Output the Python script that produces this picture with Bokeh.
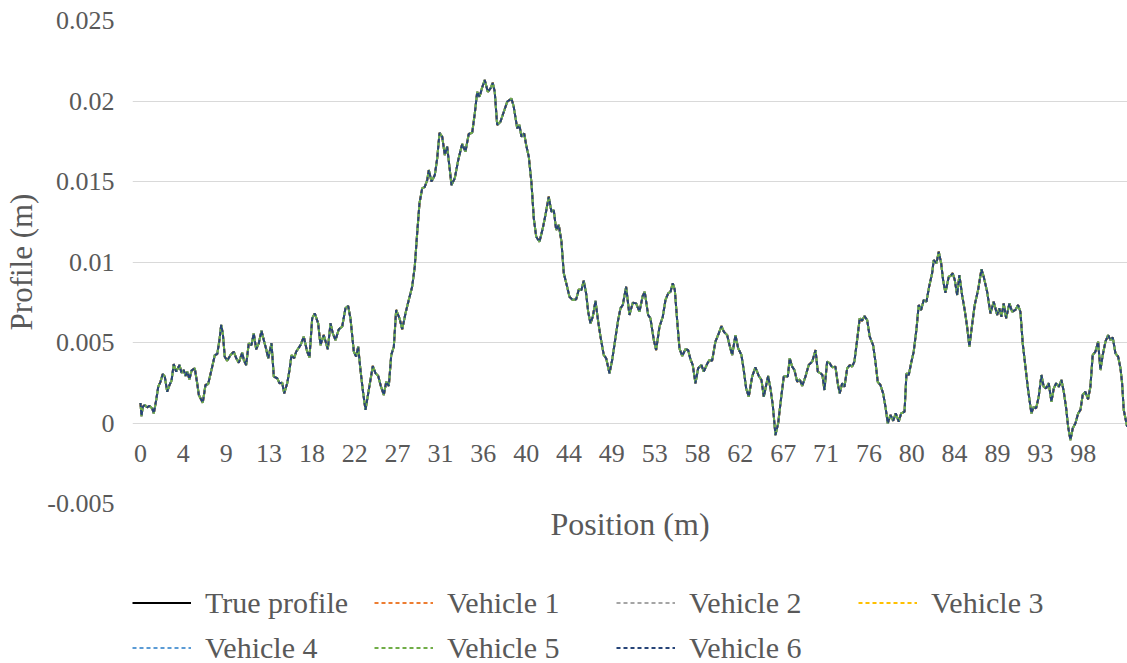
from bokeh.plotting import figure
from bokeh.layouts import column
from bokeh.models import (LinearAxis, FixedTicker, CustomJSTickFormatter, Legend,
                          LegendItem, Range1d, ColumnDataSource)
from bokeh.core.properties import value
from bokeh.embed import file_html
from bokeh.resources import INLINE

# ---------------- data ----------------
position_m = [
    0.0, 0.1, 0.24, 0.45, 0.69, 0.93, 1.21, 1.38, 1.63, 1.84, 2.07, 2.31, 2.52, 2.77, 3.01, 3.22,
    3.45, 3.70, 4.05, 4.25, 4.49, 4.67, 4.84, 5.08, 5.29, 5.63, 5.88, 6.05, 6.46, 6.74, 7.02, 7.44,
    7.71, 7.96, 8.19, 8.37, 8.54, 8.74, 8.99, 9.34, 9.68, 9.93, 10.20, 10.55, 10.72, 10.96, 11.23,
    11.51, 11.75, 12.00, 12.27, 12.55, 12.79, 13.04, 13.25, 13.59, 13.83, 14.18, 14.42, 14.70,
    14.91, 15.22, 15.46, 15.66, 15.94, 16.15,
    16.60, 16.94, 17.29, 17.53, 17.81, 18.08, 18.43, 18.67, 19.01, 19.43, 19.71, 19.95, 20.23,
    20.57, 20.92, 21.26, 21.54, 21.78, 22.13, 22.37, 22.58, 22.82, 23.06, 23.34, 23.68, 24.10,
    24.38, 24.66, 24.93, 25.24, 25.49, 25.76, 26.01, 26.28, 26.52, 26.87, 27.15, 27.49, 27.83,
    28.18, 28.45, 28.70, 28.94, 29.22, 29.49, 29.74, 29.91, 30.19, 30.53, 30.78, 31.02, 31.30,
    31.57, 31.81, 32.05, 32.26, 32.60, 32.96,
    33.37, 33.71, 34.05, 34.41, 34.68, 34.93, 35.17, 35.45, 35.71, 36.03, 36.31, 36.54, 36.75,
    37.00, 37.34, 37.69, 38.04, 38.48, 38.72, 39.08, 39.31, 39.52, 39.80, 40.01, 40.28, 40.56,
    40.80, 41.05, 41.39, 41.73, 42.01, 42.35, 42.63, 42.87, 43.12, 43.39, 43.67, 43.91, 44.26,
    44.50, 44.84, 45.20, 45.47, 45.74, 45.98, 46.23, 46.44, 46.68, 46.92, 47.20, 47.48, 47.72,
    48.06, 48.31, 48.65, 48.93, 49.27, 49.55,
    49.79, 50.03, 50.38, 50.72, 51.07, 51.42, 51.76, 52.10, 52.31, 52.66, 52.90, 53.25, 53.49,
    53.84, 54.18, 54.46, 54.74, 54.98, 55.22, 55.43, 55.67, 55.91, 56.19, 56.53, 56.81, 57.05,
    57.29, 57.57, 57.85, 58.19, 58.43, 58.78, 59.02, 59.30, 59.64, 59.99, 60.27, 60.51, 60.86,
    61.10, 61.38, 61.72, 62.00, 62.34, 62.58, 62.83, 63.10, 63.45, 63.79, 64.14, 64.42, 64.66,
    64.91, 65.11, 65.35, 65.59, 65.87, 66.15, 66.39, 66.73,
    66.91, 67.15, 67.35, 67.60, 67.84, 68.12, 68.39, 68.64, 68.98, 69.32, 69.68, 70.03, 70.26,
    70.54, 70.74, 70.95, 71.23, 71.50, 71.75, 72.09, 72.33, 72.54, 72.79, 73.03, 73.31, 73.58,
    73.82, 74.06, 74.34, 74.61, 74.86, 75.10, 75.38, 75.65, 76.00, 76.24, 76.48, 76.76, 77.04,
    77.28, 77.52, 77.80, 78.08, 78.35, 78.66, 78.91, 79.26, 79.46, 79.70, 79.95, 80.21, 80.49,
    80.73, 80.98, 81.25, 81.53, 81.81, 82.12, 82.29, 82.57, 82.81, 83.06, 83.26, 83.50, 83.85,
    84.02, 84.26, 84.47, 84.72, 84.95, 85.23, 85.50, 85.75, 85.99, 86.20, 86.54, 86.89, 87.24,
    87.47, 87.83, 88.17, 88.51, 88.87, 89.10, 89.31, 89.55, 89.80, 90.14, 90.42, 90.76, 91.04,
    91.28, 91.52, 91.80, 92.08, 92.42, 92.66, 92.91, 93.18, 93.46, 93.70, 93.95, 94.22, 94.50,
    94.74, 94.99, 95.26, 95.54, 95.78, 96.03, 96.23, 96.47, 96.71, 96.99, 97.27, 97.51, 97.74,
    98.02, 98.30, 98.54, 98.78, 99.06, 99.34, 99.58, 99.82, 100.10, 100.38, 100.62, 100.86,
    101.14, 101.42, 101.66, 101.83, 102.00, 102.35,
]

# true profile in millimetres (converted to metres below)
true_profile_mm = [
    1.24, 0.43, 1.01, 1.12, 0.97, 1.06, 0.91, 0.60, 1.43, 2.25, 2.56, 3.04, 2.88, 1.94, 2.36, 2.63,
    3.66, 3.19, 3.60, 3.12, 3.29, 2.92, 3.19, 2.71, 3.25, 3.40, 2.47, 1.74, 1.26, 2.36, 2.42, 3.50,
    4.22, 4.28, 5.15, 6.09, 5.57, 4.12, 3.87, 4.22, 4.43, 4.02, 3.74, 4.37, 3.91, 3.60, 4.95,
    4.84, 5.57, 4.58, 4.95, 5.73, 5.15, 4.58, 4.02, 4.95, 2.88, 2.78, 2.47, 2.50,
    1.84, 2.47, 3.29, 4.22, 4.02, 4.43,
    4.84, 5.36, 4.43, 4.08, 6.50, 6.81, 6.19, 4.84, 5.46, 4.58, 6.19, 5.57, 5.15,
    5.82, 5.98, 7.12, 7.27, 6.50, 4.43, 4.12, 4.74, 3.29, 2.05, 0.81, 2.05, 3.54,
    3.09, 2.92, 2.30, 1.74, 2.56, 2.30, 4.22, 4.74, 7.02, 6.50, 5.82, 6.81, 7.64,
    8.46, 9.71, 11.78, 13.64, 14.57, 14.67, 15.09, 15.71, 14.99, 15.40, 16.44, 18.03, 17.78,
    16.64, 17.16, 15.92, 14.78, 15.20, 16.33,
    17.33, 16.85, 17.95, 18.03, 19.23, 20.57, 20.26, 20.85, 21.30, 20.57, 20.79, 21.13, 20.57,
    18.51, 18.71, 19.33, 19.95, 20.16, 19.64, 18.30, 18.51, 17.78, 17.99, 17.26, 16.54, 14.89,
    12.71, 11.57, 11.26, 12.09, 12.92, 14.05, 13.12, 13.23, 11.99, 12.30, 11.26, 9.30, 8.46,
    7.84, 7.64, 7.68, 8.30, 8.26, 8.84, 8.05, 6.91, 6.19, 6.60, 7.59, 6.29, 5.36,
    4.22, 4.02, 3.09, 3.91, 5.28, 6.40,
    7.12, 7.33, 8.46, 6.71, 7.47, 7.43, 6.91, 7.89, 8.15, 6.71, 6.50, 5.15, 4.53,
    5.98, 6.60, 7.64, 8.05, 8.15, 8.68, 8.26, 6.40, 4.64, 4.16, 4.58, 4.53, 3.96,
    3.60, 2.47, 3.40, 3.60, 3.19, 3.66, 3.91, 3.87, 5.05, 5.57, 6.02, 5.67, 5.46,
    4.84, 4.22, 5.46, 4.64, 4.22, 3.29, 2.15, 1.63, 2.88, 3.46, 2.92, 2.67, 1.63,
    2.36, 2.92, 2.15, 1.12, -0.75, -0.02, 1.22, 2.88,
    2.92, 2.88, 4.02, 3.50, 3.29, 2.56, 2.71, 2.30, 2.88, 3.60, 3.81, 4.53, 3.19,
    3.09, 2.98, 2.05, 3.81, 3.71, 3.46, 3.50, 2.47, 1.84, 2.47, 2.25, 3.40, 3.60,
    3.50, 3.81, 5.15, 6.50, 6.35, 6.64, 6.40, 5.36, 4.84, 3.81, 2.56, 2.36, 1.84,
    1.01, -0.02, 0.50, 0.14, 0.60, 0.08, 0.60, 0.70, 3.09, 2.98, 3.74, 4.43, 5.78,
    7.33, 7.02, 7.64, 7.53, 8.46, 9.30, 10.12, 9.92, 10.64, 9.92, 8.88, 8.09, 9.09,
    9.13, 9.30, 8.88, 7.95, 9.19, 7.95, 7.02, 5.98, 4.74, 5.78, 7.33, 8.26, 9.55,
    9.09, 8.15, 6.81, 7.53, 6.71, 7.12, 6.60, 7.43, 6.50, 7.43, 6.91, 7.02, 7.33,
    6.91, 4.95, 3.50, 2.05, 0.60, 1.01, 0.91, 1.63, 2.98, 2.25, 2.15, 2.47, 1.32,
    2.15, 2.47, 2.25, 2.67, 1.94, 0.91, -0.23, -1.06, -0.33, -0.02, 0.60, 0.81, 1.74,
    1.94, 1.47, 2.25, 4.22, 4.43, 5.05, 3.29, 4.22, 5.05, 5.46, 5.15, 5.32,
    4.33, 4.12, 3.40, 2.47, 0.81, -0.23,
]

# the six vehicle estimates coincide with the true profile at this scale
vehicle_1_mm = true_profile_mm
vehicle_2_mm = true_profile_mm
vehicle_3_mm = true_profile_mm
vehicle_4_mm = true_profile_mm
vehicle_5_mm = true_profile_mm
vehicle_6_mm = true_profile_mm

series_names = ["True profile", "Vehicle 1", "Vehicle 2", "Vehicle 3",
                "Vehicle 4", "Vehicle 5", "Vehicle 6"]
series_values = [true_profile_mm, vehicle_1_mm, vehicle_2_mm, vehicle_3_mm,
                 vehicle_4_mm, vehicle_5_mm, vehicle_6_mm]
series_colors = ["#000000", "#ED7D31", "#A5A5A5", "#FFC000", "#5B9BD5", "#70AD47", "#264478"]
series_dash_offsets = [0, 1, 2, 5, 4, 3, 0]

x_tick_pos = [0, 4.445, 8.89, 13.335, 17.78, 22.225, 26.67, 31.115, 35.56, 40.005, 44.45,
              48.895, 53.34, 57.785, 62.23, 66.675, 71.12, 75.565, 80.01, 84.455, 88.9,
              93.345, 97.79]
x_tick_labels = ["0", "4", "9", "13", "18", "22", "27", "31", "36", "40", "44", "49", "53",
                 "58", "62", "67", "71", "76", "80", "84", "89", "93", "98"]
y_ticks = [-0.005, 0, 0.005, 0.01, 0.015, 0.02, 0.025]
y_tick_labels = ["-0.005", "0", "0.005", "0.01", "0.015", "0.02", "0.025"]

# ---------------- main figure ----------------
FONT = "Liberation Serif"
TXT = "#595959"
GRID = "#D9D9D9"

p = figure(width=1127, height=550, output_backend="svg", toolbar_location=None,
           x_axis_type=None, x_range=Range1d(-0.83, 102.39), y_range=Range1d(-0.005, 0.025),
           min_border_left=132, min_border_right=0, min_border_top=20, min_border_bottom=47)
p.outline_line_color = None
p.background_fill_color = "white"
p.border_fill_color = "white"

nearest_js = """
let best = 0, dist = 1e99;
for (let i = 0; i < pos.length; i++) {
  const e = Math.abs(pos[i] - tick);
  if (e < dist) { dist = e; best = i; }
}
return lbls[best];
"""

ya = p.yaxis[0]
ya.ticker = FixedTicker(ticks=y_ticks)
ya.formatter = CustomJSTickFormatter(args=dict(pos=y_ticks, lbls=y_tick_labels), code=nearest_js)
ya.axis_line_color = None
ya.major_tick_line_color = None
ya.minor_tick_line_color = None
ya.major_tick_out = 0
ya.major_tick_in = 0
ya.major_label_standoff = 18
ya.major_label_text_font = FONT
ya.major_label_text_font_size = "26px"
ya.major_label_text_color = TXT
ya.axis_label = "Profile (m)"
ya.axis_label_text_font = FONT
ya.axis_label_text_font_size = "31px"
ya.axis_label_text_font_style = "normal"
ya.axis_label_text_color = TXT
ya.axis_label_standoff = 5

p.ygrid.grid_line_color = GRID
p.ygrid.grid_line_width = 1

xt = LinearAxis(ticker=FixedTicker(ticks=[]), axis_line_color=None,
                major_tick_line_color=None, minor_tick_line_color=None,
                major_tick_out=0, major_tick_in=0,
                axis_label="Position (m)", axis_label_text_font=FONT,
                axis_label_text_font_size="32px", axis_label_text_font_style="normal",
                axis_label_text_color=TXT, axis_label_standoff=2)
p.add_layout(xt, "below")

# category-style position labels sitting just under the zero line
p.text(x=x_tick_pos, y=[0] * len(x_tick_pos), text=x_tick_labels,
       text_font=value(FONT), text_font_size="26px", text_color=TXT,
       text_align="center", text_baseline="middle", y_offset=30)

line_styles = []
for name, vals, col, off in zip(series_names, series_values, series_colors, series_dash_offsets):
    src = ColumnDataSource(dict(x=position_m, y=[v / 1000.0 for v in vals]))
    dash = "solid" if name == "True profile" else "4 3"
    p.line("x", "y", source=src, line_color=col, line_width=2, line_dash=dash,
           line_dash_offset=off)
    line_styles.append((name, col, dash))

# ---------------- legend strip below the chart ----------------
q = figure(width=1127, height=113, output_backend="svg", toolbar_location=None,
           x_axis_location=None, y_axis_location=None, min_border=0,
           x_range=Range1d(0, 1), y_range=Range1d(0, 1))
q.outline_line_color = None
q.grid.grid_line_color = None

items = []
for name, col, dash in line_styles:
    # single-point line: draws nothing itself, only carries the legend style
    r = q.line(x=[0], y=[0], line_color=col, line_width=2, line_dash=dash)
    items.append(LegendItem(label=name, renderers=[r]))

leg = Legend(items=items, ncols=4, orientation="horizontal", location=(0, -2),
             padding=0, margin=0, spacing=10, glyph_width=59, glyph_height=35,
             label_width=159, label_height=35, label_standoff=14,
             label_text_font=FONT, label_text_font_size="30px", label_text_color=TXT,
             background_fill_alpha=0, border_line_color=None)
q.add_layout(leg)

layout = column(p, q, spacing=0)
open("out.html", "w").write(file_html(layout, INLINE))
